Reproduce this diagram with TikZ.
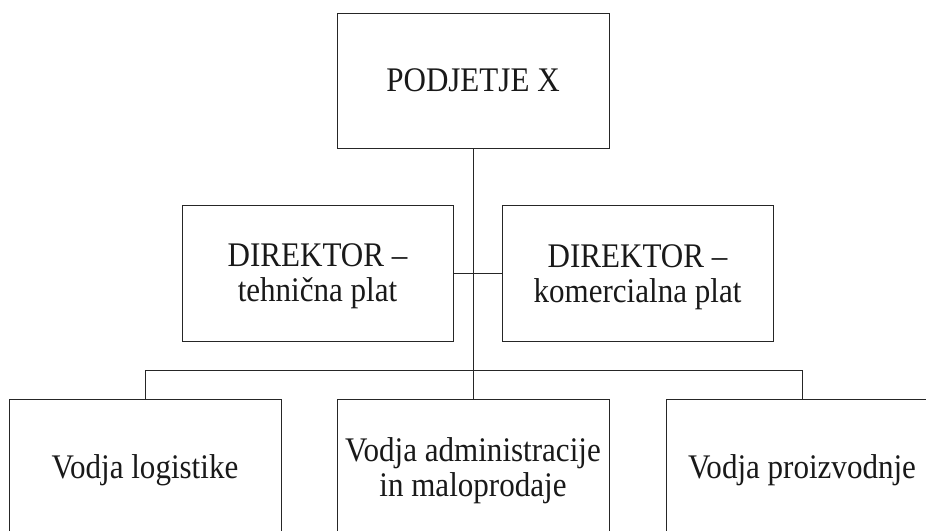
\documentclass[tikz,border=0pt]{standalone}
\usepackage{fontspec}
\setmainfont{Liberation Serif}[FakeStretch=0.9]
\begin{document}
\begin{tikzpicture}[x=1pt,y=-1pt,
  orgbox/.style={draw=black!85,line width=1pt,minimum width=272pt,minimum height=135pt,
    inner sep=0pt,align=center,text depth=0pt,font=\fontsize{34.5}{35}\selectfont,text=black!90},
  conn/.style={draw=black!85,line width=1pt}]
\clip (0,0) rectangle (926,530);
\node[orgbox] (top) at (473,80.5) {PODJETJE X};
\node[orgbox,minimum width=271pt,minimum height=136pt] (ld) at (317.5,273) {DIREKTOR –\\tehnična plat};
\node[orgbox,minimum width=271pt,minimum height=136pt] (rd) at (637.5,273.5) {DIREKTOR –\\komercialna plat};
\node[orgbox] (bl) at (145,467) {Vodja logistike};
\node[orgbox] (bm) at (473,467) {Vodja administracije\\in maloprodaje};
\node[orgbox] (br) at (802,467) {Vodja proizvodnje};
\coordinate (bus) at (473,370);
\draw[conn] (top.south) -- (bus);
\draw[conn] (ld.east) -- (ld.east -| rd.west);
\draw[conn] (bus) -| (bl.north);
\draw[conn] (bus) -| (br.north);
\draw[conn] (bus) -- (bm.north);
\end{tikzpicture}
\end{document}
